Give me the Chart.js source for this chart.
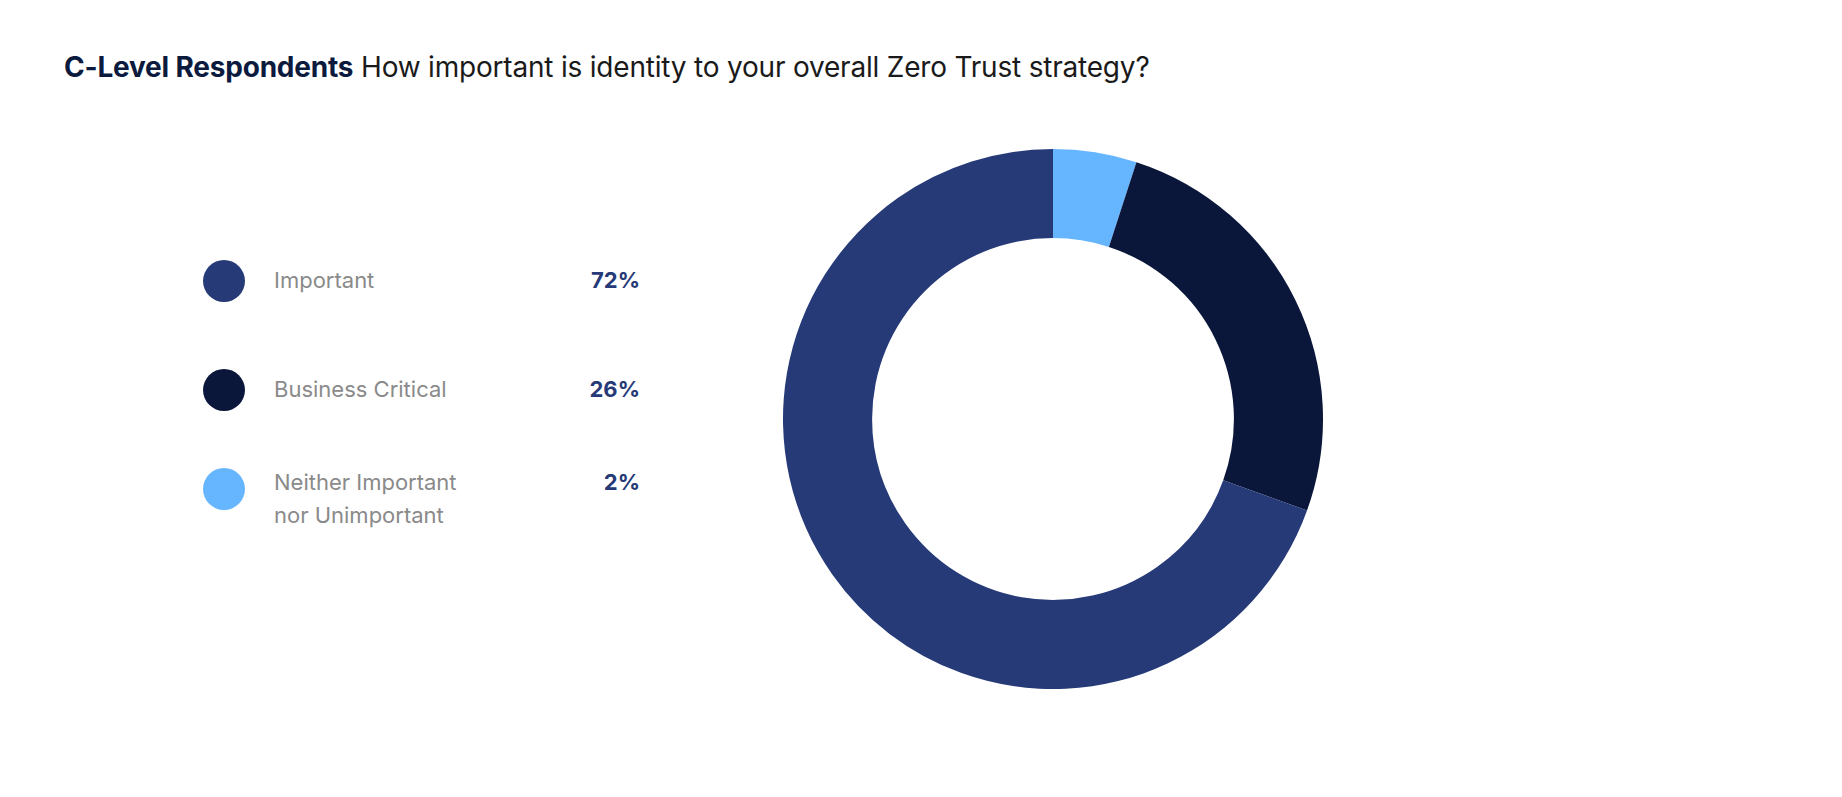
<!DOCTYPE html>
<html>
<head>
<meta charset="utf-8">
<script src="https://cdn.jsdelivr.net/npm/chart.js@4"></script>
<style>
  body { margin: 0; width: 1842px; height: 797px; background: #fff; font-family: Inter, "Open Sans", sans-serif; position: relative; overflow: hidden; }
  #title { position: absolute; left: 64px; top: 50px; font-size: 28px; color: #1a1a1a; letter-spacing: -0.2px; }
  #title b { color: #0b1a3d; }
  .row { position: absolute; left: 203px; width: 437px; }
  .dot { position: absolute; left: 0; width: 42px; height: 42px; border-radius: 50%; }
  .lab { position: absolute; left: 71px; font-size: 22px; color: #8a8a8a; line-height: 33px; }
  .pct { position: absolute; right: 0; font-size: 22px; font-weight: 700; color: #263a78; line-height: 33px; }
  #wrap { position: absolute; left: 773px; top: 139px; width: 560px; height: 560px; }
</style>
</head>
<body>
<div id="title"><b>C-Level Respondents</b> How important is identity to your overall Zero Trust strategy?</div>
<div id="legend"></div>
<div id="wrap"><canvas id="donut"></canvas></div>
<script>
// legend entries as printed
const legendLabels = ["Important", "Business Critical", "Neither Important<br>nor Unimportant"];
const legendValues = ["72%", "26%", "2%"];
const legendColors = ["#263a78", "#0a173b", "#66b5ff"];

// slice sizes as drawn (clockwise from top)
const sliceLabels = ["Neither Important nor Unimportant", "Business Critical", "Important"];
const sliceValues = [5, 25.5, 69.5];
const sliceColors = ["#66b5ff", "#0a173b", "#263a78"];

const rowTops = [260, 369, 462];
const legend = document.getElementById("legend");
legendLabels.forEach(function (name, i) {
    const row = document.createElement("div");
    row.className = "row";
    row.style.top = rowTops[i] + "px";
    const dotTop = i === 2 ? 6 : 0;
    row.innerHTML =
        '<div class="dot" style="top:' + dotTop + 'px;background:' + legendColors[i] + '"></div>' +
        '<div class="lab" style="top:4px">' + name + '</div>' +
        '<div class="pct" style="top:4px">' + legendValues[i] + '</div>';
    legend.appendChild(row);
});

new Chart(document.getElementById("donut"), {
    type: "doughnut",
    data: {
        labels: sliceLabels,
        datasets: [{
            data: sliceValues,
            backgroundColor: sliceColors,
            borderWidth: 0
        }]
    },
    options: {
        responsive: true,
        maintainAspectRatio: false,
        animation: false,
        cutout: "67%",
        layout: { padding: 10 },
        plugins: { legend: { display: false }, tooltip: { enabled: false } }
    }
});
</script>
</body>
</html>
